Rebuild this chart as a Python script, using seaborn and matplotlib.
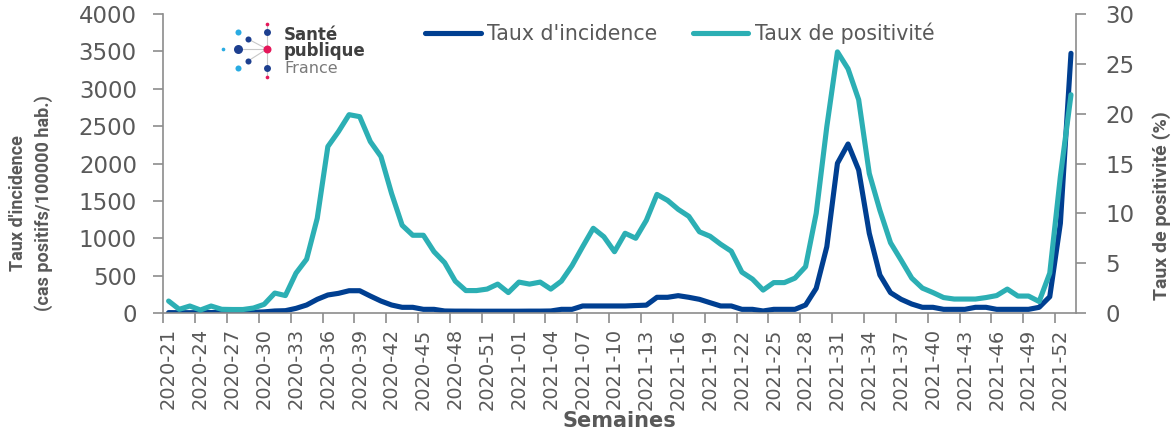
import numpy as np
import pandas as pd
import matplotlib
matplotlib.use('Agg')
import matplotlib.pyplot as plt
import seaborn as sns

# ---------------------- data ---------------------- #
# weekly categories: 2020-21 ... 2020-53, 2021-01 ... 2021-52, 2022-01
weeks = ([f"2020-{w:02d}" for w in range(21, 54)]
         + [f"2021-{w:02d}" for w in range(1, 53)]
         + ["2022-01"])

# incidence rate (cas positifs / 100000 hab.), left axis
incidence = [5, 4, 4, 5, 6, 5, 6, 8, 10, 15,
             27, 31, 62, 107, 183, 241, 263, 298, 298, 227,
             160, 107, 76, 76, 49, 49, 27, 25, 25, 24,
             24, 24, 24, 24, 25, 25, 27, 49, 49, 94,
             94, 94, 94, 94, 100, 105, 210, 210, 232, 210,
             183, 138, 94, 94, 49, 49, 27, 49, 49, 49,
             107, 330, 887, 2003, 2261, 1913, 1066, 508, 272, 183,
             120, 76, 76, 49, 49, 49, 76, 76, 49, 49,
             49, 49, 76, 218, 1200, 3474]

# positivity rate (%), right axis
positivite = [1.2, 0.37, 0.7, 0.3, 0.7, 0.37, 0.35, 0.35, 0.5, 0.87,
              2.0, 1.75, 4.0, 5.4, 9.5, 16.7, 18.2, 19.9, 19.7, 17.2,
              15.7, 12.0, 8.8, 7.8, 7.8, 6.15, 5.05, 3.2, 2.25, 2.25,
              2.4, 2.9, 2.05, 3.1, 2.9, 3.1, 2.4, 3.2, 4.75, 6.65,
              8.5, 7.65, 6.15, 8.0, 7.5, 9.3, 11.9, 11.3, 10.4, 9.7,
              8.15, 7.7, 6.9, 6.2, 4.1, 3.4, 2.3, 3.05, 3.05, 3.5,
              4.65, 10.0, 18.7, 26.2, 24.5, 21.4, 14.0, 10.3, 7.05, 5.3,
              3.5, 2.5, 2.05, 1.55, 1.4, 1.4, 1.4, 1.55, 1.75, 2.4,
              1.7, 1.7, 1.15, 4.0, 13.7, 21.9]

left_ticks = list(range(0, 4001, 500))
right_ticks = list(range(0, 31, 5))

df = pd.DataFrame({'semaine': weeks, 'idx': np.arange(len(weeks)),
                   'incidence': incidence, 'positivite': positivite})

# ---------------------- style ---------------------- #
sns.set_style('ticks')
plt.rcParams['font.family'] = ['DejaVu Sans']

BLUE = '#003F91'
TEAL = '#2CAFB4'
TXT = '#595959'
AXC = '#8C8C8C'
NARROW = ['Roboto', 'DejaVu Sans']

fig = plt.figure(figsize=(11.76, 4.34), dpi=100)
ax = fig.add_axes([0.13886, 0.27880, 0.77636, 0.68894])
ax2 = ax.twinx()

sns.lineplot(data=df, x='idx', y='incidence', ax=ax, color=BLUE,
             linewidth=3.7, label="Taux d'incidence")
sns.lineplot(data=df, x='idx', y='positivite', ax=ax2, color=TEAL,
             linewidth=3.7, label='Taux de positivité')

handles = ax.get_lines()[:1] + ax2.get_lines()[:1]
labels = ["Taux d'incidence", 'Taux de positivité']
ax.get_legend().remove()
ax2.get_legend().remove()

# ---------------------- axes ---------------------- #
n = len(weeks)
ax.set_xlim(-0.5, n - 0.5)
ax.set_ylim(0, 4000)
ax2.set_ylim(0, 30)

# tick marks between categories, labels on categories
label_pos = np.arange(0, n, 3)
ax.set_xticks(label_pos - 0.5)
ax.set_xticklabels([])
ax.set_xticks(label_pos, minor=True)
ax.set_xticklabels([weeks[i] for i in label_pos], minor=True, rotation=90,
                   fontsize=14, color=TXT)
ax.tick_params(axis='x', which='major', length=7, width=1.2, color=AXC, direction='out')
ax.tick_params(axis='x', which='minor', length=0, pad=11)

ax.set_yticks(left_ticks)
ax.set_yticklabels([str(v) for v in left_ticks], fontsize=16.5, color=TXT)
ax.tick_params(axis='y', length=7, width=1.2, color=AXC, pad=12)
ax2.set_yticks(right_ticks)
ax2.set_yticklabels([str(v) for v in right_ticks], fontsize=16.5, color=TXT)
ax2.tick_params(axis='y', length=7, width=1.2, color=AXC, pad=14)

for a in (ax, ax2):
    a.spines['top'].set_visible(False)
    for s in ('left', 'right', 'bottom'):
        a.spines[s].set_color(AXC)
        a.spines[s].set_linewidth(1.2)
ax.spines['right'].set_visible(False)
ax2.spines['left'].set_visible(False)
ax2.spines['bottom'].set_visible(False)

ax.set_xlabel('Semaines', fontsize=15, fontweight='bold', color=TXT)
ax.xaxis.set_label_coords(0.5, -0.36)
ax.xaxis.label.set_va('center')

ax.set_ylabel("Taux d'incidence\n(cas positifs/100000 hab.)", fontsize=13,
              fontweight='bold', color=TXT, family=NARROW, linespacing=1.5)
ax.yaxis.set_label_coords(-0.145, 0.368)
ax.yaxis.label.set_va('center')

ax2.set_ylabel('Taux de positivité (%)', fontsize=14, fontweight='bold',
               color=TXT, family=NARROW, rotation=90)
ax2.yaxis.set_label_coords(1.093, 0.36)
ax2.yaxis.label.set_va('center')

fig.legend(handles, labels, loc='center left', bbox_to_anchor=(425 / 1176, 1 - 33 / 434),
           ncol=2, frameon=False, fontsize=14.8, labelcolor=TXT, handlelength=2.7,
           handletextpad=0.3, columnspacing=1.75, borderpad=0, borderaxespad=0)

# ---------------------- logo (pixel coords) ---------------------- #
lg = fig.add_axes([0, 0, 1, 1], zorder=5)
lg.set_xlim(0, 1176)
lg.set_ylim(434, 0)
lg.axis('off')
lg.patch.set_alpha(0)
hub = (267, 49)
for px, py in [(248, 39), (238, 49), (248, 61), (267, 24), (267, 77)]:
    lg.plot([hub[0], px], [hub[1], py], color='#c8c8c8', lw=0.8, zorder=1)
dots = [(238, 32, '#29ABE2', 19), (248, 39, '#1D3F8F', 19), (238, 49, '#1D3F8F', 42),
        (223, 49, '#29ABE2', 7), (248, 61, '#1D3F8F', 19), (238, 68, '#29ABE2', 19),
        (267, 24, '#E5175A', 7), (267, 32, '#1D3F8F', 25), (267, 49, '#E5175A', 33),
        (267, 68, '#1D3F8F', 25), (267, 77, '#E5175A', 7)]
for px, py, c, s in dots:
    lg.scatter([px], [py], s=s, color=c, linewidths=0, zorder=2)
lg.text(284, 40, 'Santé', fontsize=12, fontweight='bold', color='#3F3F3F', va='baseline')
lg.text(284, 56, 'publique', fontsize=12, fontweight='bold', color='#3F3F3F', va='baseline')
lg.text(284, 73, 'France', fontsize=11.5, color='#7A7A7A', va='baseline')

plt.savefig('out.png', dpi=100)
plt.close()
